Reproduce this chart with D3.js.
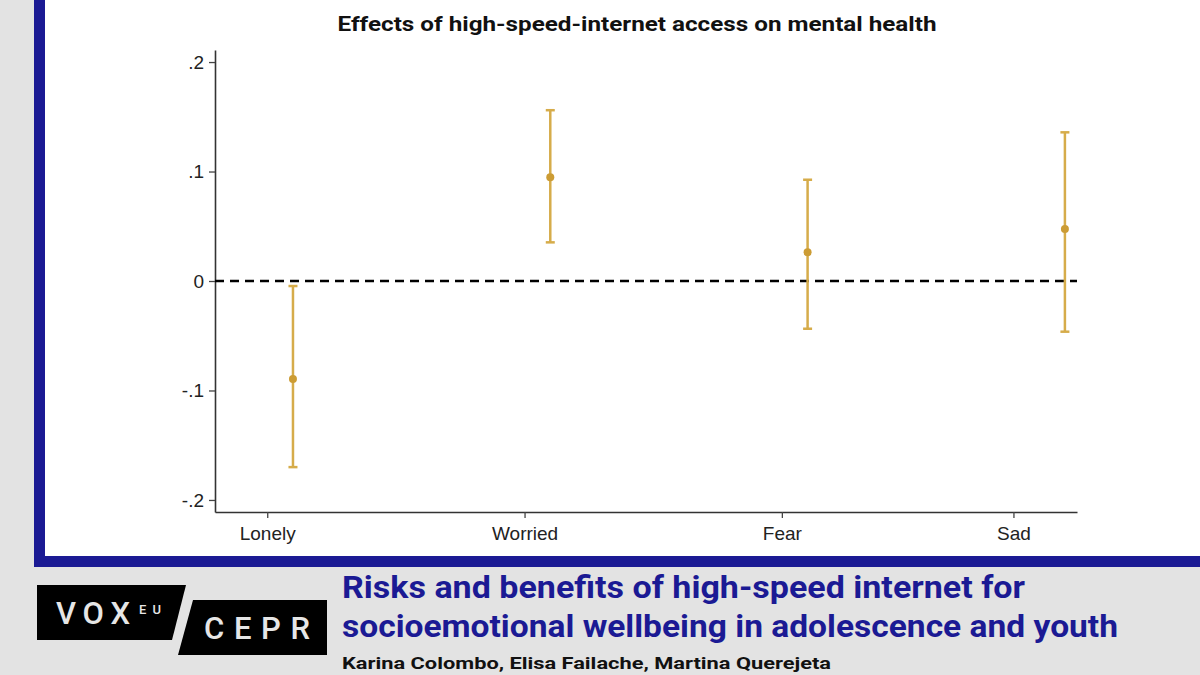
<!doctype html>
<html>
<head>
<meta charset="utf-8">
<script src="https://cdnjs.cloudflare.com/ajax/libs/d3/7.8.5/d3.min.js"></script>
<style>
  body { margin: 0; background: #e3e3e3; }
  svg { display: block; }
</style>
</head>
<body>
<svg width="1200" height="675"></svg>
<script>
// chart data
var categories = ["Lonely", "Worried", "Fear", "Sad"];
var xPos = [1, 2, 3, 4];
var estimates = [-0.0895, 0.0947, 0.0262, 0.0475];
var lower = [-0.170, 0.0353, -0.0436, -0.0463];
var upper = [-0.0046, 0.156, 0.0925, 0.1358];
var tickPos = [0.9, 1.9, 2.9, 3.8];
var yTicks = [-0.2, -0.1, 0, 0.1, 0.2];
var yTickLabels = ["-.2", "-.1", "0", ".1", ".2"];

var title = "Effects of high-speed-internet access on mental health";
var headline1 = "Risks and benefits of high-speed internet for";
var headline2 = "socioemotional wellbeing in adolescence and youth";
var authors = "Karina Colombo, Elisa Failache, Martina Querejeta";

var svg = d3.select("svg");
var blue = "#1b1a94";
var gold = "#d6ac4a";

// frame: grey page, white panel, blue border
svg.append("rect").attr("x", 0).attr("y", 0).attr("width", 1200).attr("height", 675).attr("fill", "#e3e3e3");
svg.append("rect").attr("x", 34).attr("y", 0).attr("width", 1166).attr("height", 567).attr("fill", blue);
svg.append("rect").attr("x", 45).attr("y", 0).attr("width", 1155).attr("height", 556).attr("fill", "#ffffff");

var xScale = d3.scaleLinear().domain([0.697, 4.047]).range([215, 1077]);
var yScale = d3.scaleLinear().domain([-0.211, 0.211]).range([512, 50]);

svg.append("text")
  .attr("x", 637).attr("y", 31)
  .attr("text-anchor", "middle")
  .attr("font-family", "Roboto, 'DejaVu Sans', sans-serif")
  .attr("font-weight", 700).attr("font-size", 20)
  .attr("textLength", 599).attr("lengthAdjust", "spacingAndGlyphs")
  .attr("fill", "#111")
  .text(title);

// axes
var yAxis = d3.axisLeft(yScale)
  .tickValues(yTicks)
  .tickFormat(function (d, i) { return yTickLabels[i]; })
  .tickSizeInner(6).tickSizeOuter(0).tickPadding(5);

var xAxis = d3.axisBottom(xScale)
  .tickValues(tickPos)
  .tickFormat(function (d, i) { return categories[i]; })
  .tickSizeInner(6).tickSizeOuter(0).tickPadding(5);

var yG = svg.append("g").attr("transform", "translate(215,0)").call(yAxis);
var xG = svg.append("g").attr("transform", "translate(0,512)").call(xAxis);

[yG, xG].forEach(function (g) {
  g.select(".domain").attr("stroke", "#333").attr("stroke-width", 1.6);
  g.selectAll(".tick line").attr("stroke", "#444").attr("stroke-width", 1.3);
  g.selectAll(".tick text")
    .attr("font-family", "'Liberation Sans', Arial, sans-serif")
    .attr("font-size", 19).attr("fill", "#222");
});
xG.selectAll(".tick text").attr("dy", "0.9em");

// zero reference line
svg.append("line")
  .attr("x1", xScale.range()[0]).attr("x2", xScale.range()[1])
  .attr("y1", yScale(0)).attr("y2", yScale(0))
  .attr("stroke", "#000").attr("stroke-width", 2.7)
  .attr("stroke-dasharray", "9,6");

// confidence intervals
var bars = svg.append("g");
bars.selectAll("line.ci")
  .data(xPos).enter().append("line")
  .attr("class", "ci")
  .attr("x1", function (d) { return xScale(d); })
  .attr("x2", function (d) { return xScale(d); })
  .attr("y1", function (d, i) { return yScale(lower[i]); })
  .attr("y2", function (d, i) { return yScale(upper[i]); })
  .attr("stroke", gold).attr("stroke-width", 2.5);

[lower, upper].forEach(function (arr) {
  bars.selectAll(null)
    .data(xPos).enter().append("line")
    .attr("x1", function (d) { return xScale(d) - 4.5; })
    .attr("x2", function (d) { return xScale(d) + 4.5; })
    .attr("y1", function (d, i) { return yScale(arr[i]); })
    .attr("y2", function (d, i) { return yScale(arr[i]); })
    .attr("stroke", gold).attr("stroke-width", 2.5);
});

bars.selectAll("circle")
  .data(xPos).enter().append("circle")
  .attr("cx", function (d) { return xScale(d); })
  .attr("cy", function (d, i) { return yScale(estimates[i]); })
  .attr("r", 4)
  .attr("fill", "#cc9c34");

// VoxEU / CEPR logo
svg.append("polygon").attr("points", "37,585 186,585 172,640 37,640").attr("fill", "#000");
svg.append("polygon").attr("points", "193,600 327,600 327,655 178,655").attr("fill", "#000");

var logoFont = "Roboto, 'DejaVu Sans', sans-serif";
svg.append("text").attr("x", 56).attr("y", 624)
  .attr("font-family", logoFont).attr("font-weight", 500).attr("font-size", 31)
  .attr("textLength", 74).attr("lengthAdjust", "spacing")
  .attr("fill", "#e6e6e6").text("VOX");
svg.append("text").attr("x", 139).attr("y", 614)
  .attr("font-family", logoFont).attr("font-weight", 500).attr("font-size", 13)
  .attr("textLength", 22).attr("lengthAdjust", "spacing")
  .attr("fill", "#e6e6e6").text("EU");
svg.append("text").attr("x", 204).attr("y", 639)
  .attr("font-family", logoFont).attr("font-weight", 500).attr("font-size", 31)
  .attr("textLength", 106).attr("lengthAdjust", "spacing")
  .attr("fill", "#e6e6e6").text("CEPR");

// headline and authors
var headFont = "Roboto, 'DejaVu Sans', sans-serif";
svg.append("text").attr("x", 342).attr("y", 598)
  .attr("font-family", headFont).attr("font-weight", 700).attr("font-size", 31)
  .attr("textLength", 683).attr("lengthAdjust", "spacingAndGlyphs")
  .attr("fill", blue).text(headline1);
svg.append("text").attr("x", 342).attr("y", 637)
  .attr("font-family", headFont).attr("font-weight", 700).attr("font-size", 31)
  .attr("textLength", 776).attr("lengthAdjust", "spacingAndGlyphs")
  .attr("fill", blue).text(headline2);
svg.append("text").attr("x", 342).attr("y", 669)
  .attr("font-family", headFont).attr("font-weight", 700).attr("font-size", 17)
  .attr("textLength", 489).attr("lengthAdjust", "spacingAndGlyphs")
  .attr("fill", "#111").text(authors);
</script>
</body>
</html>
